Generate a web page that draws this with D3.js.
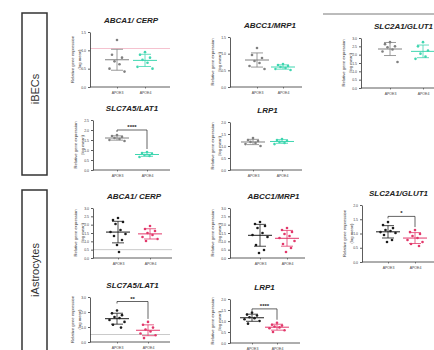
<!DOCTYPE html>
<html>
<head>
<meta charset="utf-8">
<script src="https://cdn.jsdelivr.net/npm/d3@7"></script>
<style>
  html, body { margin: 0; padding: 0; background: #fff; }
  svg { display: block; font-family: "Liberation Sans", Arial, sans-serif; }
</style>
</head>
<body>
<svg id="fig" width="434" height="350"></svg>
<script>
// Genotype groups and cell types
const genotypes = ["APOE3", "APOE4"];
const cellTypes = ["iBECs", "iAstrocytes"];
const genes = ["ABCA1/ CERP", "ABCC1/MRP1", "SLC2A1/GLUT1", "SLC7A5/LAT1", "LRP1"];

// Relative gene expression (log mean), iBECs
const becABCA1_E3 = [1.28, 0.88, 0.80, 0.70, 0.62, 0.50, 0.42];
const becABCA1_E4 = [0.95, 0.88, 0.80, 0.74, 0.66, 0.55, 0.50];
const becABCC1_E3 = [1.17, 0.96, 0.87, 0.78, 0.72, 0.63, 0.54];
const becABCC1_E4 = [0.69, 0.66, 0.63, 0.60, 0.57, 0.54, 0.51];
const becSLC2A1_E3 = [2.75, 2.63, 2.50, 2.44, 2.31, 2.19, 1.56];
const becSLC2A1_E4 = [2.75, 2.50, 2.25, 2.06, 1.88, 1.75];
const becSLC7A5_E3 = [1.75, 1.70, 1.65, 1.60, 1.55, 1.50, 1.45];
const becSLC7A5_E4 = [0.90, 0.85, 0.80, 0.75, 0.70, 0.65];
const becLRP1_E3 = [1.33, 1.25, 1.21, 1.17, 1.13, 1.08, 1.00];
const becLRP1_E4 = [1.29, 1.25, 1.21, 1.17, 1.13, 1.08];

// Relative gene expression (log mean), iAstrocytes
const astABCA1_E3 = [2.40, 2.28, 2.16, 2.04, 1.68, 1.56, 1.44, 1.32, 1.08, 0.78, 0.36];
const astABCA1_E4 = [1.92, 1.74, 1.62, 1.50, 1.38, 1.26, 1.14, 1.02];
const astABCC1_E3 = [2.16, 2.04, 1.92, 1.80, 1.50, 1.38, 1.26, 0.78, 0.48, 0.30];
const astABCC1_E4 = [1.80, 1.68, 1.56, 1.44, 1.32, 1.20, 1.02, 0.84, 0.60, 0.36];
const astSLC2A1_E3 = [1.40, 1.30, 1.19, 1.12, 1.09, 1.05, 1.02, 0.95, 0.77, 0.70];
const astSLC2A1_E4 = [1.12, 1.05, 0.98, 0.91, 0.84, 0.77, 0.70, 0.63, 0.56];
const astSLC7A5_E3 = [2.10, 1.91, 1.79, 1.66, 1.60, 1.47, 1.34, 1.15, 0.96];
const astSLC7A5_E4 = [1.34, 1.15, 0.96, 0.83, 0.70, 0.57, 0.45, 0.26];
const astLRP1_E3 = [1.38, 1.29, 1.25, 1.17, 1.13, 1.08, 1.00, 0.88];
const astLRP1_E4 = [0.92, 0.83, 0.79, 0.75, 0.71, 0.67, 0.58, 0.50];

// Y-axis domains and tick values
const domainA = [0, 1.5], ticksA = [0, 0.5, 1, 1.5];
const domainB = [0, 3], ticksB = [0, 0.5, 1, 1.5, 2, 2.5, 3];
const domainC = [0, 2.5], ticksC = [0, 0.5, 1, 1.5, 2, 2.5];
const domainD = [0, 2], ticksD = [0, 0.5, 1, 1.5, 2];
const ticksE = [0, 1, 2, 3];

// Significance labels
const sigLAT1bec = "****", sigGLUT1ast = "*", sigLAT1ast = "**", sigLRP1ast = "****";

const colors = {
  iBECs: { APOE3: "#808080", APOE4: "#3fd6b0" },
  iAstrocytes: { APOE3: "#1b1b1b", APOE4: "#e2386b" }
};

const panels = [
  { gene: 0, cell: 0, e3: becABCA1_E3, e4: becABCA1_E4, dom: domainA, ticks: ticksA,
    ax: 90, c1: 117, c2: 145, xEnd: 170, top: 32, bottom: 87, ref: { v: 1.05, color: "#f2b3c3" } },
  { gene: 1, cell: 0, e3: becABCC1_E3, e4: becABCC1_E4, dom: domainA, ticks: ticksA,
    ax: 230, c1: 257, c2: 283, xEnd: 302, top: 37, bottom: 87 },
  { gene: 2, cell: 0, e3: becSLC2A1_E3, e4: becSLC2A1_E4, dom: domainB, ticks: ticksB,
    ax: 361, c1: 390, c2: 423, xEnd: 440, top: 38, bottom: 88, titleShift: -3 },
  { gene: 3, cell: 0, e3: becSLC7A5_E3, e4: becSLC7A5_E4, dom: domainC, ticks: ticksC,
    ax: 93, c1: 117, c2: 147, xEnd: 170, top: 120, bottom: 170, sig: { level: 2.0, label: sigLAT1bec } },
  { gene: 4, cell: 0, e3: becLRP1_E3, e4: becLRP1_E4, dom: domainD, ticks: ticksD,
    ax: 230, c1: 253, c2: 282, xEnd: 302, top: 122, bottom: 170 },
  { gene: 0, cell: 1, e3: astABCA1_E3, e4: astABCA1_E4, dom: domainB, ticks: ticksB,
    ax: 93, c1: 118, c2: 150, xEnd: 172, top: 208, bottom: 258, ref: { v: 0.5, color: "#bdbdbd" } },
  { gene: 1, cell: 1, e3: astABCC1_E3, e4: astABCC1_E4, dom: domainB, ticks: ticksB,
    ax: 230, c1: 260, c2: 287, xEnd: 305, top: 208, bottom: 258 },
  { gene: 2, cell: 1, e3: astSLC2A1_E3, e4: astSLC2A1_E4, dom: domainD, ticks: ticksD,
    ax: 362, c1: 388, c2: 415, xEnd: 440, top: 205, bottom: 262, sig: { level: 1.6, label: sigGLUT1ast },
    titleShift: -3 },
  { gene: 3, cell: 1, e3: astSLC7A5_E3, e4: astSLC7A5_E4, dom: domainB, ticks: ticksE,
    ax: 90, c1: 117, c2: 148, xEnd: 170, top: 297, bottom: 342, ref: { v: 0.5, color: "#bdbdbd" },
    sig: { level: 2.7, label: sigLAT1ast } },
  { gene: 4, cell: 1, e3: astLRP1_E3, e4: astLRP1_E4, dom: domainD, ticks: ticksD,
    ax: 230, c1: 252, c2: 277, xEnd: 300, top: 299, bottom: 343, sig: { level: 1.55, label: sigLRP1ast } }
];

const svg = d3.select("#fig");

// Row group boxes with cell-type labels
const boxes = [
  { label: cellTypes[0], y0: 13, y1: 175, ty: 89 },
  { label: cellTypes[1], y0: 190, y1: 372, ty: 270 }
];
boxes.forEach(b => {
  svg.append("rect").attr("x", 22).attr("y", b.y0).attr("width", 25).attr("height", b.y1 - b.y0)
    .attr("fill", "none").attr("stroke", "#333").attr("stroke-width", 1.5);
  svg.append("text").attr("transform", `translate(35,${b.ty}) rotate(-90)`)
    .attr("text-anchor", "middle").attr("dominant-baseline", "central")
    .attr("font-size", 11).attr("fill", "#333").text(b.label);
});

// Rule at top right
svg.append("line").attr("x1", 323).attr("x2", 434).attr("y1", 14).attr("y2", 14)
  .attr("stroke", "#555").attr("stroke-width", 0.8);

// Horizontal spread of points within each group
const spread = [0, -5, 5, -2.5, 2.5, -7.5, 7.5, -4, 4, -1, 1, -6, 6];

panels.forEach(p => {
  const g = svg.append("g");
  const cell = cellTypes[p.cell];
  const y = d3.scaleLinear().domain(p.dom).range([p.bottom, p.top]);
  const x = d3.scalePoint().domain(genotypes).range([p.c1, p.c2]);

  // Title
  g.append("text").attr("x", (p.c1 + p.c2) / 2 + (p.titleShift || 0)).attr("y", p.top - 9)
    .attr("text-anchor", "middle").attr("font-size", 8).attr("font-weight", "bold")
    .attr("font-style", "italic").attr("fill", "#222").text(genes[p.gene]);

  // Reference level
  if (p.ref) {
    g.append("line").attr("x1", p.ax).attr("x2", p.xEnd)
      .attr("y1", y(p.ref.v)).attr("y2", y(p.ref.v))
      .attr("stroke", p.ref.color).attr("stroke-width", 0.8);
  }

  // Y axis
  const yAxis = g.append("g").attr("transform", `translate(${p.ax},0)`)
    .call(d3.axisLeft(y).tickValues(p.ticks).tickSize(2).tickSizeOuter(0).tickFormat(d3.format(".1f")));
  yAxis.selectAll("text").attr("font-size", 3.5).attr("fill", "#444").attr("dx", 1);
  yAxis.selectAll("path, line").attr("stroke", "#333").attr("stroke-width", 0.8);

  // X axis
  const xAxis = g.append("g").attr("transform", `translate(0,${p.bottom})`)
    .call(d3.axisBottom(x).tickSize(1.5).tickSizeOuter(0));
  xAxis.select(".domain").remove();
  xAxis.append("line").attr("x1", p.ax).attr("x2", p.xEnd).attr("stroke", "#333").attr("stroke-width", 0.8);
  xAxis.selectAll(".tick line").attr("stroke", "#333").attr("stroke-width", 0.6);
  xAxis.selectAll("text").attr("font-size", 3.5).attr("fill", "#444").attr("dy", "0.6em");

  // Y axis label
  const ym = (p.top + p.bottom) / 2;
  g.append("text").attr("transform", `translate(${p.ax - 16},${ym}) rotate(-90)`)
    .attr("text-anchor", "middle").attr("font-size", 4.2).attr("fill", "#333")
    .text("Relative gene expression");
  g.append("text").attr("transform", `translate(${p.ax - 9},${ym}) rotate(-90)`)
    .attr("text-anchor", "middle").attr("font-size", 4.2).attr("fill", "#333")
    .text("(log mean)");

  // Points, mean and SD bars
  [["APOE3", p.e3], ["APOE4", p.e4]].forEach(([gt, vals]) => {
    const col = colors[cell][gt];
    const cx = x(gt);
    g.selectAll(null).data(vals).join("circle")
      .attr("cx", (d, i) => cx + spread[i % spread.length])
      .attr("cy", d => y(d)).attr("r", 1.3).attr("fill", col);
    const m = d3.mean(vals), sd = d3.deviation(vals);
    g.append("line").attr("x1", cx - 12).attr("x2", cx + 12).attr("y1", y(m)).attr("y2", y(m))
      .attr("stroke", col).attr("stroke-width", 1);
    g.append("line").attr("x1", cx).attr("x2", cx).attr("y1", y(m - sd)).attr("y2", y(m + sd))
      .attr("stroke", col).attr("stroke-width", 0.8);
    [m - sd, m + sd].forEach(v => {
      g.append("line").attr("x1", cx - 6).attr("x2", cx + 6).attr("y1", y(v)).attr("y2", y(v))
        .attr("stroke", col).attr("stroke-width", 0.8);
    });
  });

  // Significance bracket
  if (p.sig) {
    const by = y(p.sig.level);
    const x1 = x("APOE3"), x2 = x("APOE4");
    const legB = y(d3.max(p.e4)) - 3;
    g.append("path")
      .attr("d", `M${x1},${by + 2}V${by}H${x2}V${legB}`)
      .attr("fill", "none").attr("stroke", "#222").attr("stroke-width", 0.7);
    g.append("text").attr("x", (x1 + x2) / 2).attr("y", by - 1)
      .attr("text-anchor", "middle").attr("font-size", 6).attr("font-weight", "bold")
      .attr("fill", "#222").text(p.sig.label);
  }
});
</script>
</body>
</html>
